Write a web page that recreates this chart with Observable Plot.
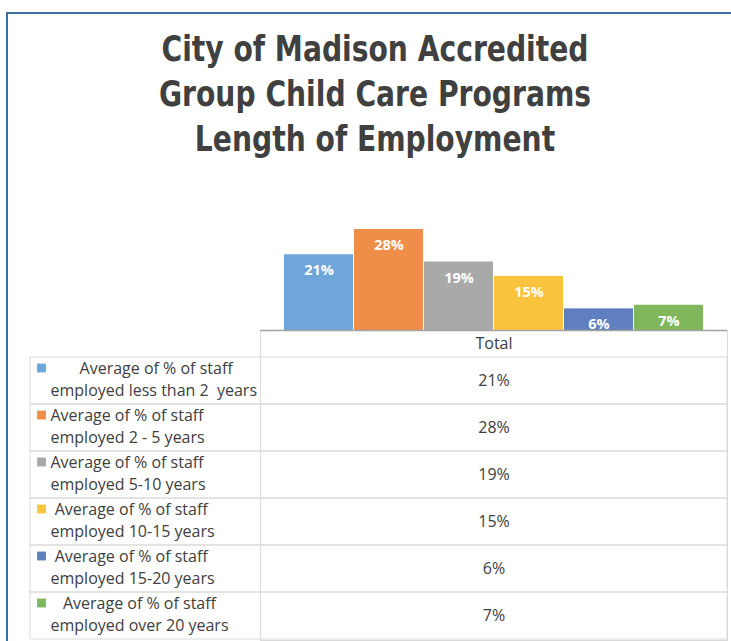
<!DOCTYPE html>
<html>
<head>
<meta charset="utf-8">
<script src="https://cdn.jsdelivr.net/npm/d3@7"></script>
<script src="https://cdn.jsdelivr.net/npm/@observablehq/plot@0.6"></script>
<style>
  html, body { margin: 0; padding: 0; background: #fff; overflow: hidden; }
  #wrap { position: relative; width: 731px; height: 641px; background: #fff; overflow: hidden; }
  #border { position: absolute; left: 6px; top: 12px; width: 800px; height: 700px;
            border-left: 2px solid #3b6fa4; border-top: 2px solid #3b6fa4; }
  #title { position: absolute; left: 0; top: 26px; width: 750px; text-align: center;
           font-family: "DejaVu Sans Condensed", "DejaVu Sans", sans-serif;
           font-weight: bold; font-size: 36px; line-height: 45px; color: #404040;
           transform: scaleX(0.87); transform-origin: 375px 0; }
  #bars { position: absolute; left: 0; top: 0; }
  #table { position: absolute; left: 0; top: 330px; }
</style>
</head>
<body>
<div id="wrap">
  <div id="border"></div>
  <div id="title">City of Madison Accredited<br>Group Child Care Programs<br>Length of Employment</div>
  <div id="table"></div>
  <div id="bars"></div>
</div>
<script>
// Series (legend labels), values in percent, and colours
const seriesLabels = [
  "\u00a0\u00a0\u00a0\u00a0\u00a0\u00a0\u00a0Average of % of staff\nemployed less than 2\u00a0\u00a0years",
  "Average of % of staff\nemployed 2 - 5 years",
  "Average of % of staff\nemployed 5-10 years",
  "\u00a0Average of % of staff\nemployed 10-15 years",
  "\u00a0Average of % of staff\nemployed 15-20 years",
  "\u00a0\u00a0\u00a0Average of % of staff\nemployed over 20 years"
];
const seriesKeys = ["lt2", "2-5", "5-10", "10-15", "15-20", "gt20"];
const seriesValues = [21, 28, 19, 15, 6, 7];
const seriesColors = ["#6fa6da", "#ef8e48", "#a9a9a9", "#fcc43e", "#5f7fc0", "#80b75a"];
const categoryLabel = "Total";

const rows = seriesKeys.map((k, i) => ({
  key: k, label: seriesLabels[i], value: seriesValues[i], color: seriesColors[i]
}));

const FONT = "'Open Sans', 'Noto Sans', sans-serif";

// Bar chart
const bars = Plot.plot({
  width: 731,
  height: 345,
  marginLeft: 260,
  marginRight: 4,
  marginTop: 229,
  marginBottom: 15,
  style: { background: "transparent", fontFamily: FONT },
  x: { domain: seriesKeys, paddingInner: 0.02, paddingOuter: 0.33, axis: null },
  y: { domain: [0, 28], axis: null },
  marks: [
    Plot.barY(rows, { x: "key", y: "value", fill: "color" }),
    Plot.ruleY([0], { stroke: "#a3a3a3", strokeWidth: 1.5 }),
    Plot.text(rows, {
      x: "key", y: "value", text: d => d.value + "%",
      dy: 16, fill: "white", fontWeight: "bold", fontSize: 14.5, lineAnchor: "middle"
    })
  ]
});
document.getElementById("bars").appendChild(bars);

// Data table
const table = Plot.plot({
  width: 731,
  height: 311,
  marginLeft: 260,
  marginRight: 4,
  marginTop: 25,
  marginBottom: 1,
  style: { background: "transparent", fontFamily: FONT },
  y: { domain: seriesLabels, padding: 0, axis: null },
  marks: [
    Plot.cell(rows, { y: "label", fill: "none", stroke: "#dadada", insetLeft: -230 }),
    Plot.frame({ stroke: "#dadada", insetTop: -25 }),
    Plot.text([categoryLabel], {
      text: d => d, frameAnchor: "top", dy: -12, fontSize: 16, fill: "#404040", lineAnchor: "middle"
    }),
    Plot.text(rows, {
      y: "label", text: d => d.value + "%", frameAnchor: "middle", fontSize: 16, fill: "#404040"
    }),
    Plot.text(rows, {
      y: "label", text: "label", frameAnchor: "left", textAnchor: "start",
      dx: -210, dy: -3, fontSize: 16, fill: "#404040", lineHeight: 1.38
    }),
    Plot.dot(rows, {
      y: "label", frameAnchor: "left", dx: -219, dy: -13,
      symbol: "square", r: 5, fill: "color", stroke: "none"
    })
  ]
});
document.getElementById("table").appendChild(table);
</script>
</body>
</html>
